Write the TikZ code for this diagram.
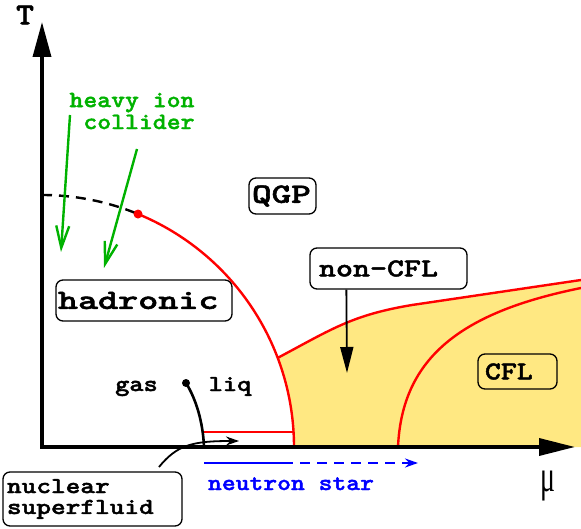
\documentclass[tikz,border=0pt]{standalone}
\usepackage{fontspec}
\usepackage{graphicx}
\newfontfamily\greekfont{Liberation Serif}
\newfontfamily\cour{lmmonolt10-bold.otf}[FakeBold=1.6]
\usetikzlibrary{arrows.meta}
\definecolor{cflyellow}{RGB}{255,232,130}
\definecolor{hicgreen}{RGB}{0,178,0}
\newcommand{\fs}[2]{\fontsize{#1}{#2}\selectfont}
\newcommand{\wide}[2]{\scalebox{#1}[1]{#2}}

\begin{document}
\begin{tikzpicture}[x=10bp, y=10bp,
    box/.style={draw, rounded corners=7bp, line width=1.3bp, align=left, inner ysep=0pt},
    phase/.style={red, line width=2.4bp},
    label/.style={font=\cour\fs{23}{21}}]
    \useasboundingbox (-4.2,-8.2) rectangle (53.9,44.7);
    % CFL region
    \fill[cflyellow] (23.57,8.91) .. controls (29,11.8) and (31,13.2) .. (37,14.2) -- (53.9,16.7)
        -- (53.9,0) -- (25.2,0) arc[start angle=0, end angle=20.7, radius=25.2] -- cycle;
    % phase boundaries
    \draw[line width=2.4bp, dash pattern=on 10bp off 7bp] (0,25.2) arc[start angle=90, end angle=67.6, radius=25.2] coordinate (cp);
    \draw[phase] (cp) arc[start angle=67.6, end angle=0, radius=25.2];
    \draw[phase] (23.57,8.91) .. controls (29,11.8) and (31,13.2) .. (37,14.2) -- (53.9,16.7);
    \draw[phase] (35.6,0) .. controls (36,9) and (42,13.5) .. (53.9,15.9);
    \draw[red, line width=1.8bp] (16.1,1.5) -- (25.15,1.5);
    \fill[red] (cp) circle[radius=4.5bp];
    % liquid-gas line
    \coordinate (lg) at (14.4,6.4);
    \draw[line width=2.6bp] (lg) .. controls (15.4,4.8) and (16.1,2.5) .. (16.2,0);
    \fill (lg) circle[radius=4bp];
    % axes
    \draw[line width=3.5bp, {Triangle[length=35bp,width=18bp]}-{Triangle[length=36bp,width=17bp]}] (0,42.5) -- (0,0) -- (53.3,0);
    \node[font=\cour\fs{31}{31}] (T) at (-1.7,43.2) {\wide{1.1}{T}};
    \node[font=\greekfont\fs{28}{28}, yscale=1.6] (mu) at (50.55,-3.9) {μ};
    % phases
    \node[box, font=\cour\fs{28}{28}, text width=61bp, inner xsep=3bp, minimum height=36bp] (qgp) at (24.05,25.1) {\wide{1.34}{QGP}};
    \node[box, font=\cour\fs{28}{28}, text width=172bp, inner xsep=2bp, minimum height=41bp] (had) at (10.2,14.65) {\wide{1.37}{hadronic}};
    \node[box, font=\cour\fs{26}{26}, text width=139bp, inner xsep=9bp, minimum height=41bp] (ncfl) at (34.65,17.85) {\wide{1.25}{non-CFL}};
    \node[box, font=\cour\fs{26}{26}, text width=65bp, inner xsep=7bp, minimum height=35bp] (cfl) at (47.55,7.55) {\wide{1.17}{CFL}};
    \node[box, label, text width=171bp, inner xsep=4bp, minimum height=54bp] (nsf) at (5.05,-5.2) {\wide{1.22}{nuclear}\\\wide{1.22}{superfluid}};
    \node[label, anchor=base] (gas) at (9.45,5.6) {\wide{1.18}{gas}};
    \node[label, anchor=base] (liq) at (18.8,5.6) {\wide{1.18}{liq}};
    % heavy ion collider
    \node[hicgreen, font=\cour\fs{23.5}{22}, align=right] (hic) at (9.0,33.6) {\wide{1.13}{heavy ion}\\\wide{1.13}{collider}};
    \coordinate (hic1) at (2.8,33.2);
    \coordinate (hic2) at (9.5,29.8);
    \coordinate (hicend1) at (1.9,19.5);
    \coordinate (hicend2) at (6.2,17.9);
    \draw[hicgreen, line width=2.4bp, -{Straight Barb[length=22bp,width=13bp]}] (hic1) -- (hicend1);
    \draw[hicgreen, line width=2.4bp, -{Straight Barb[length=22bp,width=13bp]}] (hic2) -- (hicend2);
    % non-CFL arrow
    \coordinate (ncflend) at (30.5,7.4);
    \draw[line width=1.8bp, -{Triangle[length=26bp,width=13bp]}] ([xshift=37bp]ncfl.south west) -- (ncflend);
    % nuclear superfluid arrow
    \coordinate (nsftop) at (11.7,-2.0);
    \coordinate (nsfend) at (19.7,0.6);
    \draw[line width=1.8bp, -{Stealth[length=13bp,width=9bp]}] (nsftop) .. controls (13.5,0.2) and (15,0.6) .. (nsfend);
    % neutron star
    \coordinate (ns0) at (16.2,-1.6);
    \coordinate (ns1) at (24.1,-1.6);
    \coordinate (ns2) at (37.6,-1.6);
    \draw[blue, line width=2.6bp] (ns0) -- (ns1);
    \draw[blue, line width=2.6bp, dash pattern=on 10bp off 7bp, -{Stealth[length=13bp,width=9bp]}] (ns1) -- (ns2);
    \node[blue, font=\cour\fs{23}{23}, anchor=base] (nstar) at (24.9,-4.3) {\wide{1.15}{neutron star}};
\end{tikzpicture}
\end{document}
